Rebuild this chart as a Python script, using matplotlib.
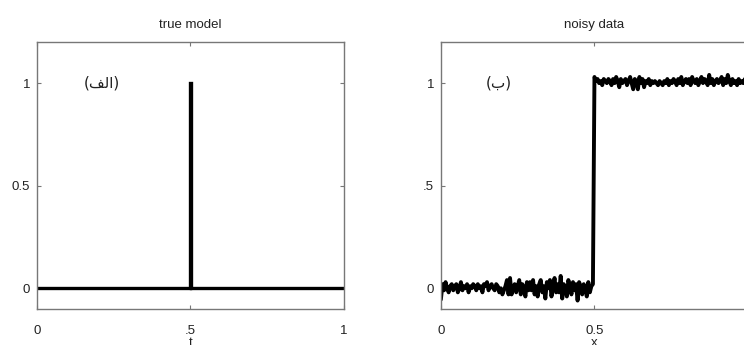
import numpy as np
import matplotlib
matplotlib.use("Agg")
import matplotlib.pyplot as plt

plt.rcParams['font.family'] = ['Liberation Sans', 'DejaVu Sans']

# ---- data ----
model_t = [0.0, 0.498, 0.498, 0.502, 0.502, 1.0]
model_y = [0.0, 0.0, 1.0, 1.0, 0.0, 0.0]

left_noise = [-0.05, 0.02, -0.01, 0.03, 0.00, -0.02, 0.01, 0.02, -0.01, 0.01,
              0.02, -0.02, 0.00, 0.03, -0.01, 0.01, 0.00, 0.02, -0.02, 0.01,
              0.00, 0.02, 0.01, -0.01, 0.02, 0.00, 0.01, -0.02, 0.02, 0.01,
              0.03, -0.01, 0.01, 0.02, 0.00, -0.01, 0.02, 0.01, -0.02, 0.00,
              -0.03, -0.01, 0.01, 0.04, -0.03, 0.05, -0.03, 0.00, 0.02, -0.02,
              0.01, 0.04, -0.03, 0.02, 0.00, -0.04, 0.03, -0.01, 0.03, -0.01,
              0.04, -0.03, 0.01, -0.04, 0.02, 0.04, -0.02, 0.01, -0.05, 0.03,
              0.00, 0.04, -0.04, 0.01, 0.05, -0.02, 0.02, -0.02, 0.06, -0.05,
              0.02, 0.00, -0.04, 0.04, 0.01, -0.03, 0.03, -0.01, 0.02, -0.06,
              0.03, 0.01, -0.03, 0.02, 0.00, -0.04, 0.03, -0.02, 0.01, 0.02]

right_noise = [1.03, 1.01, 1.02, 1.00, 1.01, 0.99, 1.02, 1.01, 1.00, 1.02,
               1.01, 0.99, 1.02, 1.00, 1.03, 1.01, 0.98, 1.02, 1.00, 1.01,
               1.02, 0.99, 1.01, 1.03, 1.00, 0.97, 1.02, 1.01, 0.97, 1.03,
               1.00, 1.02, 0.98, 1.01, 1.00, 1.02, 0.99, 1.01, 1.00, 1.01,
               1.00, 0.99, 1.01, 1.00, 0.99, 1.01, 1.00, 1.02, 0.99, 1.01,
               1.00, 1.02, 1.01, 0.99, 1.02, 1.00, 1.03, 0.99, 1.01, 1.02,
               1.00, 1.02, 0.99, 1.03, 1.01, 1.00, 1.02, 0.99, 1.01, 1.03,
               1.00, 1.02, 1.01, 0.99, 1.04, 1.00, 1.02, 0.99, 1.01, 1.02,
               1.00, 1.01, 1.03, 0.99, 1.02, 1.00, 1.04, 1.01, 0.99, 1.02,
               1.00, 1.01, 0.99, 1.02, 1.00, 1.01, 1.00, 1.02, 0.99, 1.01]

left_x = np.linspace(0.0, 0.495, len(left_noise))
right_x = np.linspace(0.5, 1.0, len(right_noise))
data_x = np.concatenate([left_x, right_x])
data_y = np.array(left_noise + right_noise)

titles = ["true model", "noisy data"]
xlabels = ["t", "x"]
left_xticklabels = ["0", ".5", "1"]
left_yticklabels = ["0", "0.5", "1"]
right_xticklabels = ["0", "0.5", "1"]
right_yticklabels = ["0", ".5", "1"]
panel_tags = ["(\ufed2\ufedf\ufe8d)", "(\ufe8f)"]

FS = 9.5

fig = plt.figure(figsize=(7.44, 3.45), dpi=100)
ax1 = fig.add_axes([0.0497, 0.105, 0.4126, 0.773])
ax2 = fig.add_axes([0.5927, 0.105, 0.4126, 0.773])

ax1.plot(model_t, model_y, color='black', lw=2.4, solid_joinstyle='miter')
ax2.plot(data_x, data_y, color='black', lw=2.8)

for ax, title, xl, xtl, ytl, tag, tx in [
        (ax1, titles[0], xlabels[0], left_xticklabels, left_yticklabels, panel_tags[0], 0.21),
        (ax2, titles[1], xlabels[1], right_xticklabels, right_yticklabels, panel_tags[1], 0.19)]:
    ax.set_xlim(0, 1)
    ax.set_ylim(-0.1, 1.2)
    ax.set_xticks([0, 0.5, 1])
    ax.set_xticklabels(xtl)
    ax.set_yticks([0, 0.5, 1])
    ax.set_yticklabels(ytl)
    ax.tick_params(direction='in', length=3, width=0.8, color='#777777',
                   top=True, right=True, labelsize=FS, labelcolor='#222222')
    ax.tick_params(axis='x', pad=12)
    ax.tick_params(axis='y', pad=5)
    for s in ax.spines.values():
        s.set_color('#777777')
        s.set_linewidth(1.0)
    ax.set_title(title, fontsize=FS, pad=10, color='#222222')
    ax.set_xlabel(xl, fontsize=FS, labelpad=0, color='#222222')
    ax.text(tx, 1.0, tag, family=['DejaVu Sans'], fontsize=11,
            ha='center', va='center', color='#222222')

fig.savefig("out.png", dpi=100)
